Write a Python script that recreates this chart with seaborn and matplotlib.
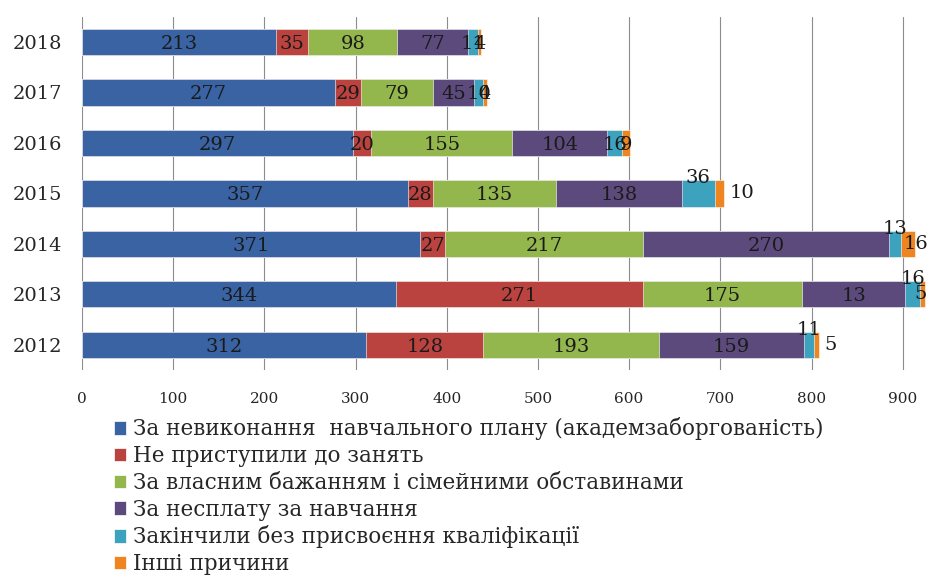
import numpy as np
import pandas as pd
import matplotlib
matplotlib.use('Agg')
import matplotlib.pyplot as plt
import matplotlib.patches as mpatches
import seaborn as sns

# data (top row first)
years = ['2018', '2017', '2016', '2015', '2014', '2013', '2012']
academic_debt = [213, 277, 297, 357, 371, 344, 312]
not_started = [35, 29, 20, 28, 27, 271, 128]
own_wish = [98, 79, 155, 135, 217, 175, 193]
non_payment = [77, 45, 104, 138, 270, 113, 159]
no_qualification = [11, 10, 16, 36, 13, 16, 11]
other = [4, 4, 9, 10, 16, 5, 5]

# label shown on the chart (some are cut in the original)
label_override = {('2013', 3): '13'}

series_names = [
    'За невиконання  навчального плану (академзаборгованість)',
    'Не приступили до занять',
    'За власним бажанням і сімейними обставинами',
    'За несплату за навчання',
    'Закінчили без присвоєння кваліфікації',
    'Інші причини',
]
colors = ['#3A63A3', '#BA423F', '#93B64D', '#5D4A7C', '#3DA2BE', '#EE8521']

series = [academic_debt, not_started, own_wish, non_payment, no_qualification, other]

sns.set_style('white')
plt.rcParams['font.family'] = ['DejaVu Serif']

df = pd.DataFrame({'year': years})
cum = np.cumsum(np.array(series), axis=0)

fig = plt.figure(figsize=(9.31, 5.79), dpi=100)
ax = fig.add_axes([0.088, 0.361, 0.911, 0.61])

# stacked bars: widest cumulative first, then overlay the shorter ones
for i in range(len(series) - 1, -1, -1):
    df['cum'] = cum[i]
    sns.barplot(data=df, x='cum', y='year', order=years, color=colors[i],
                width=0.52, orient='h', ax=ax, saturation=1,
                edgecolor='white', linewidth=0.4)

# data labels
outside_years = ['2015', '2014', '2013', '2012']
lab_kw = dict(fontsize=14, color='#1a1a1a', va='center')
for j, yr in enumerate(years):
    for i, s in enumerate(series):
        start = cum[i][j] - s[j]
        text = label_override.get((yr, i), str(s[j]))
        if yr in outside_years and i == 4:
            ax.text(start + s[j] / 2, j - 0.3, text, ha='center', **lab_kw)
        elif yr in outside_years and i == 5:
            x = min(cum[i][j] + 6, 925 - 12 * len(text))
            ax.text(x, j, text, ha='left', **lab_kw)
        else:
            ax.text(start + s[j] / 2, j + 0.04, text, ha='center', **lab_kw)

ax.set_xlim(0, 930)
ax.set_xticks(range(0, 1000, 100))
ax.set_xlabel('')
ax.set_ylabel('')
ax.grid(axis='x', color='#8c8c8c', linewidth=0.8)
ax.set_axisbelow(True)
for sp in ax.spines.values():
    sp.set_visible(False)
ax.tick_params(axis='x', labelsize=11, pad=16, length=0)
ax.tick_params(axis='y', labelsize=14, pad=14, length=0)

handles = [mpatches.Patch(facecolor=c, edgecolor='white', linewidth=0.5) for c in colors]
fig.legend(handles, series_names, loc='upper left', bbox_to_anchor=(0.122, 0.279),
           frameon=False, fontsize=15.5, handlelength=0.6, handleheight=0.6,
           handletextpad=0.3, labelspacing=0.22, borderaxespad=0, borderpad=0)

fig.savefig('out.png', dpi=100)
